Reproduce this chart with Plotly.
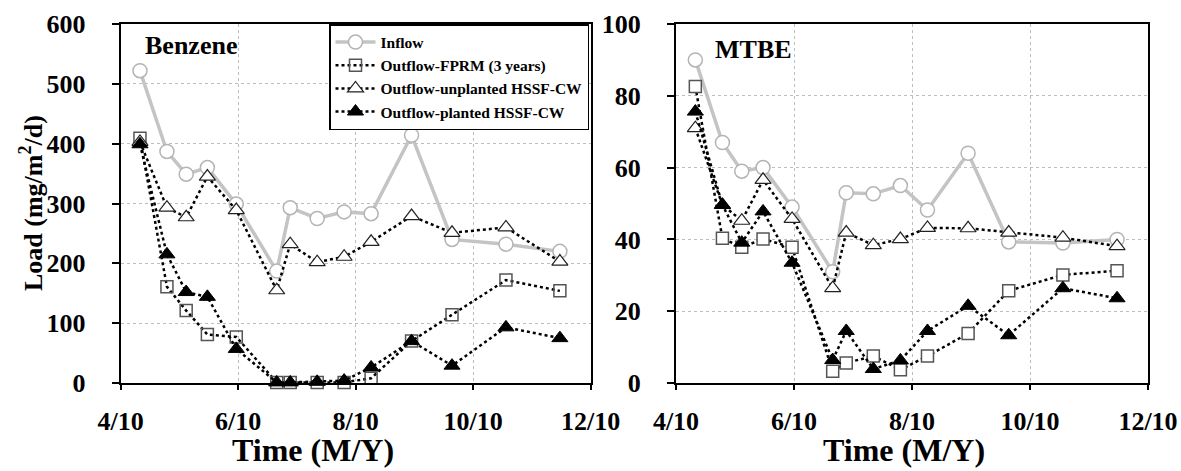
import plotly.graph_objects as go

# Sampling dates (2010)
dates = ["2010-04-11", "2010-04-25", "2010-05-05", "2010-05-16", "2010-05-31",
         "2010-06-21", "2010-06-28", "2010-07-12", "2010-07-26", "2010-08-09",
         "2010-08-30", "2010-09-20", "2010-10-18", "2010-11-15"]

tick_vals = ["2010-04-01", "2010-06-01", "2010-08-01", "2010-10-01", "2010-12-01"]
tick_text = ["4/10", "6/10", "8/10", "10/10", "12/10"]
benz_ticks = [0, 100, 200, 300, 400, 500, 600]
mtbe_ticks = [0, 20, 40, 60, 80, 100]

series_names = ["Inflow", "Outflow-FPRM (3 years)", "Outflow-unplanted HSSF-CW", "Outflow-planted HSSF-CW"]

# Benzene load (mg/m2/d)
benz_inflow = [522, 387, 349, 360, 299, 187, 293, 275, 286, 283, 414, 240, 232, 220]
benz_fprm = [409, 161, 121, 81, 77, 1, 1, 1, 1, 8, 70, 114, 172, 154]
benz_unplanted = [403, 293, 277, 345, 289, 155, 232, 202, 211, 236, 279, 251, 260, 203]
benz_planted = [399, 215, 152, 144, 57, 1, 1, 2, 4, 26, 70, 29, 93, 75]

# MTBE load (mg/m2/d)
mtbe_inflow = [90, 67, 59, 60, 49, 31, 53, 52.7, 55, 48.2, 64, 39.3, 39, 40]
mtbe_fprm = [82.6, 40.3, 37.8, 40.1, 37.8, 3.3, 5.6, 7.5, 3.7, 7.5, 13.8, 25.7, 30.1, 31.3]
mtbe_unplanted = [71, 49.6, 45.2, 56.6, 45.7, 26.4, 41.9, 38.4, 40.1, 43.2, 43.1, 41.9, 40.5, 38.1]
mtbe_planted = [75.6, 49.6, 39.1, 47.8, 33.5, 6.4, 14.5, 3.9, 6.3, 14.5, 21.5, 13.3, 26.4, 23.6]

W, H = 1181, 471
SERIF = "Liberation Serif"

fig = go.Figure()


def add_panel(xa, ya, inflow, fprm, unpl, plan, showleg, square_fill):
    common = dict(xaxis=xa, yaxis=ya, cliponaxis=False, mode="lines+markers")
    fig.add_trace(go.Scatter(x=dates, y=inflow, name=series_names[0], showlegend=showleg,
                             line=dict(color="#c4c4c4", width=3.5),
                             marker=dict(symbol="circle", size=14, color="white",
                                         line=dict(color="#b4b4b4", width=1.5)), **common))
    fig.add_trace(go.Scatter(x=dates, y=fprm, name=series_names[1], showlegend=showleg,
                             line=dict(color="black", width=2.5, dash="dot"),
                             marker=dict(symbol="square", size=12, color=square_fill,
                                         line=dict(color="#555555", width=1.5)), **common))
    fig.add_trace(go.Scatter(x=dates, y=unpl, name=series_names[2], showlegend=showleg,
                             line=dict(color="black", width=2.5, dash="dot"),
                             marker=dict(symbol="triangle-up", size=14, color="white",
                                         line=dict(color="#222222", width=1.2)), **common))
    fig.add_trace(go.Scatter(x=dates, y=plan, name=series_names[3], showlegend=showleg,
                             line=dict(color="black", width=2.5, dash="dot"),
                             marker=dict(symbol="triangle-up", size=14, color="black",
                                         line=dict(color="black", width=1)), **common))


add_panel("x", "y", benz_inflow, benz_fprm, benz_unplanted, benz_planted, True, "rgba(255,255,255,0)")
add_panel("x2", "y2", mtbe_inflow, mtbe_fprm, mtbe_unplanted, mtbe_planted, False, "white")

tickfont = dict(family=SERIF, size=26, color="black", weight="bold")

xcommon = dict(type="date", range=["2010-04-01", "2010-12-01"], tickvals=tick_vals,
               ticktext=["<b>%s</b>" % t for t in tick_text],
               showgrid=True, gridcolor="#bdbdbd", griddash="dot", gridwidth=1.2,
               showline=True, linecolor="black", linewidth=2, mirror=True,
               ticks="outside", ticklen=5, tickwidth=1.5, tickcolor="black",
               tickfont=tickfont, ticklabelstandoff=9, zeroline=False, automargin=False)
ycommon = dict(showgrid=True, gridcolor="#bdbdbd", griddash="dot", gridwidth=1.2,
               showline=True, linecolor="black", linewidth=2, mirror=True,
               ticks="outside", ticklen=7, tickwidth=1.5, tickcolor="black",
               tickfont=tickfont, ticklabelstandoff=21, zeroline=False, automargin=False)

y_dom = [(H - 383) / H, (H - 24) / H]
fig.update_layout(
    width=W, height=H,
    margin=dict(l=0, r=0, t=0, b=0, autoexpand=False),
    paper_bgcolor="white", plot_bgcolor="white",
    xaxis=dict(domain=[120.7 / W, 590.7 / W], anchor="y", **xcommon),
    xaxis2=dict(domain=[676 / W, 1148 / W], anchor="y2", **xcommon),
    yaxis=dict(domain=y_dom, anchor="x", range=[0, 600], tickvals=benz_ticks,
               ticktext=["<b>%d</b>" % v for v in benz_ticks], **ycommon),
    yaxis2=dict(domain=y_dom, anchor="x2", range=[0, 100], tickvals=mtbe_ticks,
                ticktext=["<b>%d</b>" % v for v in mtbe_ticks], **ycommon),
    legend=dict(x=589 / W, y=(H - 24) / H, xanchor="right", yanchor="top",
                bgcolor="white", bordercolor="black", borderwidth=1.5,
                font=dict(family=SERIF, size=15.5, color="black", weight="bold"),
                tracegroupgap=0, itemwidth=40, traceorder="normal"),
    showlegend=True,
)

annots = [
    dict(text="<b>Benzene</b>", x=143 / W, y=(H - 46) / H, xanchor="left", yanchor="middle",
         font=dict(family=SERIF, size=26, color="black")),
    dict(text="<b>MTBE</b>", x=713 / W, y=(H - 50) / H, xanchor="left", yanchor="middle",
         font=dict(family=SERIF, size=26, color="black")),
    dict(text="<b>Load (mg/m<sup>2</sup>/d)</b>", x=31 / W, y=(H - 203) / H, textangle=-90,
         xanchor="center", yanchor="middle",
         font=dict(family=SERIF, size=26, color="black")),
    dict(text="<b>Time (M/Y)</b>", x=313 / W, y=(H - 450) / H, xanchor="center", yanchor="middle",
         font=dict(family=SERIF, size=32, color="black")),
    dict(text="<b>Time (M/Y)</b>", x=904 / W, y=(H - 450) / H, xanchor="center", yanchor="middle",
         font=dict(family=SERIF, size=32, color="black")),
]
for a in annots:
    a.update(xref="paper", yref="paper", showarrow=False)
fig.update_layout(annotations=annots)

fig.write_html("out.html")
